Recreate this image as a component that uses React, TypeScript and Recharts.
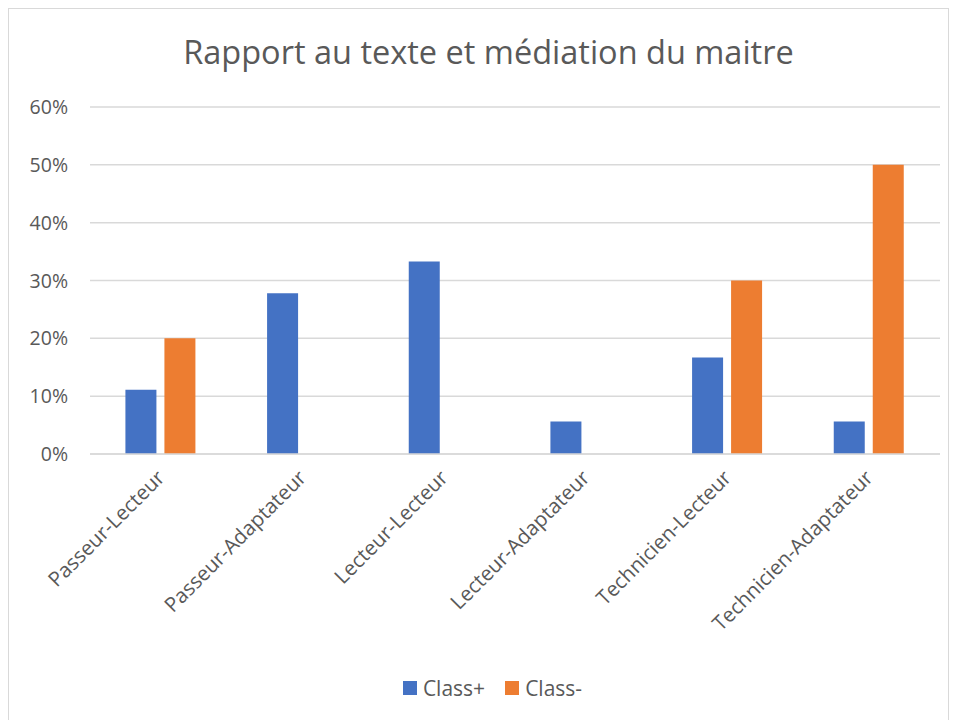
import React from "react";
import { BarChart, Bar, XAxis, YAxis, CartesianGrid, Legend } from "recharts";

const categories = [
  "Passeur-Lecteur",
  "Passeur-Adaptateur",
  "Lecteur-Lecteur",
  "Lecteur-Adaptateur",
  "Technicien-Lecteur",
  "Technicien-Adaptateur",
];
const classPlus = [0.111, 0.278, 0.333, 0.056, 0.167, 0.056];
const classMinus = [0.2, 0, 0, 0, 0.3, 0.5];
const yTicks = [0, 0.1, 0.2, 0.3, 0.4, 0.5, 0.6];

const data = categories.map((name, i) => ({
  name,
  "Class+": classPlus[i],
  "Class-": classMinus[i],
}));

const FONT = "'Open Sans', 'Noto Sans', sans-serif";
const TEXT = "#595959";

function XTick(props: any) {
  const { x, y, payload } = props;
  return (
    <text
      x={x + 5}
      y={y + 17}
      transform={`rotate(-45, ${x + 5}, ${y + 17})`}
      textAnchor="end"
      fontSize={20.5}
      fontFamily={FONT}
      fill={TEXT}
    >
      {payload.value}
    </text>
  );
}

function YTick(props: any) {
  const { y, payload } = props;
  return (
    <text x={59} y={y + 7} textAnchor="end" fontSize={19.5} fontFamily={FONT} fill={TEXT}>
      {Math.round(payload.value * 100)}%
    </text>
  );
}

function LegendContent() {
  const items = [
    { label: "Class+", color: "#4472C4" },
    { label: "Class-", color: "#ED7D31" },
  ];
  return (
    <div style={{ display: "flex", justifyContent: "center", gap: 20, fontFamily: FONT, fontSize: 21, color: TEXT, paddingLeft: 36 }}>
      {items.map((it) => (
        <div key={it.label} style={{ display: "flex", alignItems: "center", gap: 6 }}>
          <span style={{ width: 14, height: 14, background: it.color, display: "inline-block" }} />
          <span>{it.label}</span>
        </div>
      ))}
    </div>
  );
}

export default function App() {
  return (
    <div
      style={{
        position: "relative",
        width: 939,
        height: 716,
        border: "1px solid #d9d9d9",
        background: "#fff",
      }}
    >
      <div
        style={{
          position: "absolute",
          top: 20,
          left: 0,
          width: 959,
          textAlign: "center",
          fontFamily: FONT,
          fontSize: 32.5,
          color: TEXT,
        }}
      >
        Rapport au texte et médiation du maitre
      </div>
      <BarChart
        width={939}
        height={712}
        data={data}
        margin={{ top: 98, right: 8, left: 0, bottom: 20 }}
        barCategoryGap="25%"
        barGap={8}
      >
        <CartesianGrid vertical={false} stroke="#d9d9d9" strokeWidth={1.5} />
        <XAxis
          dataKey="name"
          interval={0}
          tick={<XTick />}
          tickLine={false}
          axisLine={{ stroke: "#d9d9d9", strokeWidth: 1.5 }}
          height={220}
        />
        <YAxis
          domain={[0, 0.6]}
          ticks={yTicks}
          tick={<YTick />}
          tickLine={false}
          axisLine={false}
          width={81}
        />
        <Legend verticalAlign="bottom" height={27} content={<LegendContent />} />
        <Bar dataKey="Class+" fill="#4472C4" isAnimationActive={false} />
        <Bar dataKey="Class-" fill="#ED7D31" isAnimationActive={false} />
      </BarChart>
    </div>
  );
}
